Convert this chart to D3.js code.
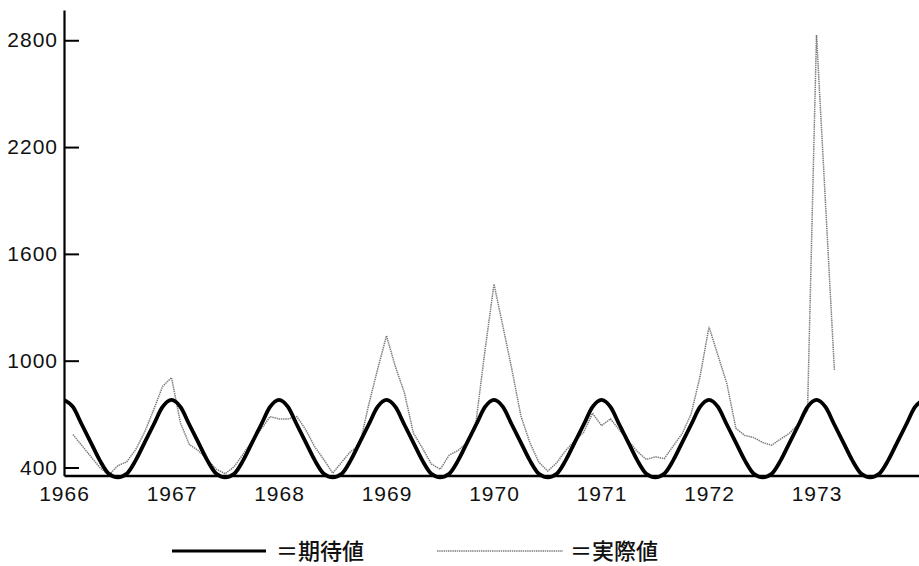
<!DOCTYPE html>
<html>
<head>
<meta charset="utf-8">
<script src="https://cdn.jsdelivr.net/npm/d3@7"></script>
<style>
  body { margin: 0; background: #fff; }
  svg { display: block; }
  .tick text { font-family: "Liberation Sans", Arial, sans-serif; font-size: 21px; letter-spacing: 1px; fill: #111; }
  .legend text { font-family: "Noto Sans CJK JP", sans-serif; font-size: 22px; font-weight: 500; fill: #111; }
</style>
</head>
<body>
<svg id="chart" width="919" height="566"></svg>
<script>
// x axis year labels
var years = [1966, 1967, 1968, 1969, 1970, 1971, 1972, 1973];
// y axis ticks
var yTicks = [400, 1000, 1600, 2200, 2800];

// 期待値, monthly from Jan 1966 to Jan 1974
var expected = [
	780, 740, 640, 540, 440, 365, 345, 365, 440, 540, 640, 740,
	780, 740, 640, 540, 440, 365, 345, 365, 440, 540, 640, 740,
	780, 740, 640, 540, 440, 365, 345, 365, 440, 540, 640, 740,
	780, 740, 640, 540, 440, 365, 345, 365, 440, 540, 640, 740,
	780, 740, 640, 540, 440, 365, 345, 365, 440, 540, 640, 740,
	780, 740, 640, 540, 440, 365, 345, 365, 440, 540, 640, 740,
	780, 740, 640, 540, 440, 365, 345, 365, 440, 540, 640, 740,
	780, 740, 640, 540, 440, 365, 345, 365, 440, 540, 640, 740,
	780
];

// 実際値, monthly from Jan 1966 (no value for Jan 1966) to Mar 1973
var actual = [
	null, 585, 523, 461, 400, 357, 410, 432, 500, 599, 723, 855,
	905, 650, 528, 495, 445, 390, 365, 405, 475, 550, 615, 686,
	673, 673, 686, 611, 515, 445, 368, 430, 490, 525, 750, 950,
	1140, 965, 820, 593, 510, 420, 390, 470, 496, 540, 660, 1060,
	1430, 1192, 950, 690, 540, 430, 380, 426, 495, 550, 597, 705,
	635, 673, 610, 550, 490, 445, 460, 450, 520, 590, 700, 911,
	1190, 1030, 870, 620, 580, 568, 540, 525, 560, 593, 645, 720,
	2830, 1890, 945
];

var legendLabels = ["＝期待値", "＝実際値"];

var width = 919, height = 566;
var svg = d3.select("#chart");

var x = d3.scaleLinear().domain([1966, 1974]).range([64, 924]);
var y = d3.scaleLinear().domain([355, 2970]).range([475.5, 10]);

function monthPoints(arr) {
	return arr.map(function(v, i) { return { t: 1966 + i / 12, v: v }; });
}

svg.append("clipPath").attr("id", "plot")
	.append("rect")
	.attr("x", x(1966))
	.attr("y", 0)
	.attr("width", width - x(1966))
	.attr("height", height);

// actual line (grey, dotted)
var actualLine = d3.line()
	.defined(function(d) { return d.v != null; })
	.x(function(d) { return x(d.t); })
	.y(function(d) { return y(d.v); });

svg.append("path")
	.datum(monthPoints(actual))
	.attr("clip-path", "url(#plot)")
	.attr("d", actualLine)
	.attr("fill", "none")
	.attr("stroke", "#7a7a7a")
	.attr("stroke-width", 1.5)
	.attr("stroke-dasharray", "1.4,0.8");

// y axis
var yAxis = svg.append("g")
	.attr("transform", "translate(" + x(1966) + ",0)")
	.call(d3.axisLeft(y).tickValues(yTicks).tickSize(-15).tickSizeOuter(0).tickPadding(6).tickFormat(d3.format("d")));
yAxis.select(".domain").attr("stroke", "#000").attr("stroke-width", 2.2);
yAxis.selectAll(".tick line").attr("stroke", "#000").attr("stroke-width", 2);

// x axis
var xAxis = svg.append("g")
	.attr("transform", "translate(0," + y(355) + ")")
	.call(d3.axisBottom(x).tickValues(years).tickSize(0).tickPadding(11).tickFormat(d3.format("d")));
xAxis.select(".domain").attr("stroke", "#000").attr("stroke-width", 2.6);

// expected line (thick black)
var expectedLine = d3.line()
	.x(function(d) { return x(d.t); })
	.y(function(d) { return y(d.v); })
	.curve(d3.curveMonotoneX);

svg.append("path")
	.datum(monthPoints(expected))
	.attr("clip-path", "url(#plot)")
	.attr("d", expectedLine)
	.attr("fill", "none")
	.attr("stroke", "#000")
	.attr("stroke-width", 3.8)
	.attr("stroke-linejoin", "round");

// legend
var legend = svg.append("g").attr("class", "legend");
legend.append("line")
	.attr("x1", 172).attr("x2", 266)
	.attr("y1", 551).attr("y2", 551)
	.attr("stroke", "#000").attr("stroke-width", 3.2);
legend.append("text")
	.attr("x", 276).attr("y", 559)
	.text(legendLabels[0]);
legend.append("line")
	.attr("x1", 437).attr("x2", 563)
	.attr("y1", 551).attr("y2", 551)
	.attr("stroke", "#7a7a7a").attr("stroke-width", 1.5)
	.attr("stroke-dasharray", "1.4,0.8");
legend.append("text")
	.attr("x", 570).attr("y", 559)
	.text(legendLabels[1]);
</script>
</body>
</html>
